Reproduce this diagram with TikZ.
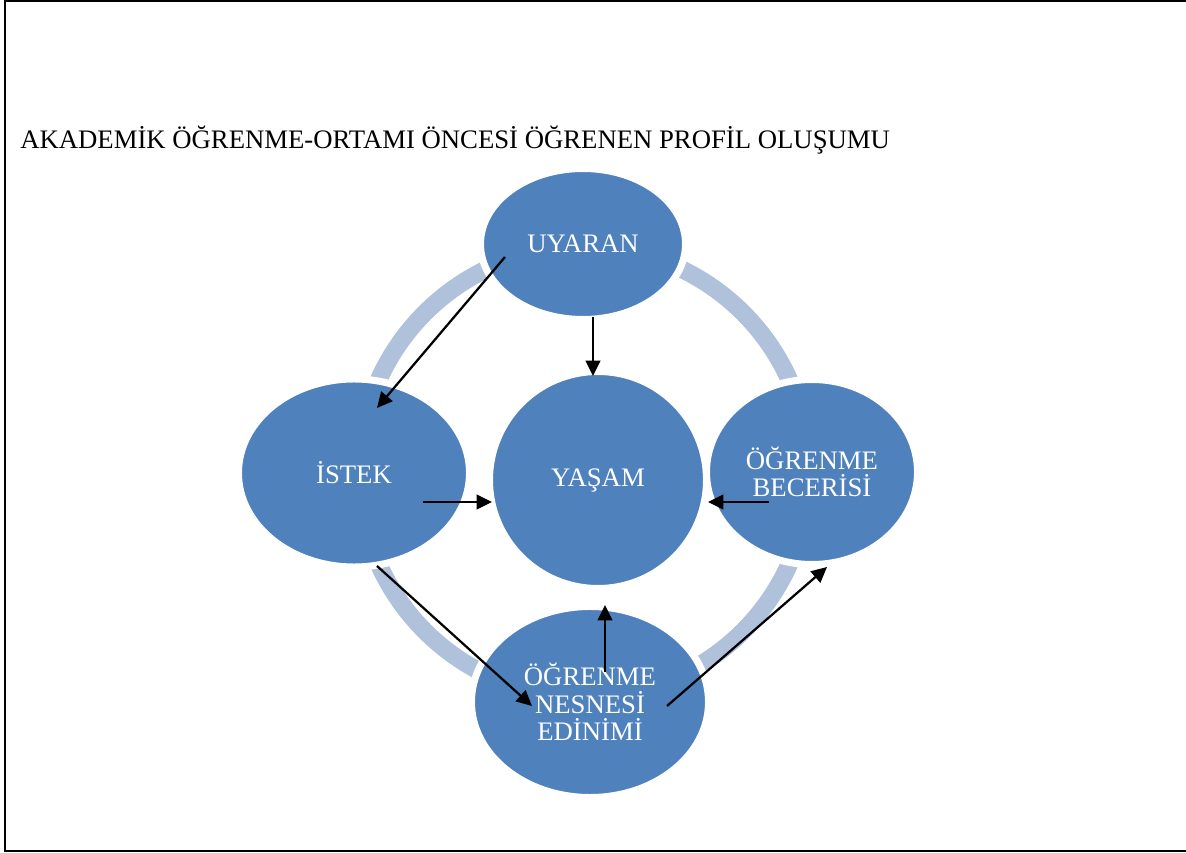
\documentclass[tikz,border=0pt]{standalone}
\usepackage{fontspec}
\setmainfont{Liberation Serif}
\usetikzlibrary{shapes.geometric,arrows.meta}
\definecolor{nodeblue}{RGB}{79,129,189}
\definecolor{ringblue}{RGB}{176,193,220}
\begin{document}
\begin{tikzpicture}[x=0.025cm,y=-0.025cm,
  blob/.style={ellipse,fill=nodeblue,draw=white,line width=5pt,inner sep=0pt,
    text=white,align=center,font=\fontsize{19}{19.5}\selectfont},
  link/.style={line width=1.6pt,-{Triangle[length=11pt,width=10.5pt]}}]
\useasboundingbox (0,0) rectangle (1186,853);
\draw[line width=1.6pt] (1186,1) -- (5,1) -- (5,851) -- (1186,851);
\node[anchor=base west,inner sep=0pt,font=\fontsize{19}{22}\selectfont] (title) at (20,149)
  {AKADEMİK ÖĞRENME-ORTAMI ÖNCESİ ÖĞRENEN PROFİL OLUŞUMU};
% ring behind the circles
\draw[ringblue,line width=12.5pt] (584,472) circle (225);
\node[blob,minimum width=5.125cm,minimum height=3.775cm] (uyaran) at (583,244) {UYARAN};
\node[blob,minimum width=5.425cm,minimum height=5.425cm] (yasam) at (598,480) {YAŞAM};
\node[blob,minimum width=5.775cm,minimum height=4.7cm] (istek) at (354,473) {İSTEK};
\node[blob,minimum width=5.275cm,minimum height=4.625cm] (beceri) at (812,472) {ÖĞRENME\\BECERİSİ};
\node[blob,minimum width=5.925cm,minimum height=4.775cm] (nesne) at (590,702) {ÖĞRENME\\NESNESİ\\EDİNİMİ};
% arrow ends
\coordinate (uyA) at (505,257);
\coordinate (isA) at (377,408);
\coordinate (uyB) at (593,317);
\coordinate (yaTop) at (593,376);
\coordinate (isB) at (423,502);
\coordinate (yaLeft) at (492,502);
\coordinate (beA) at (769,502);
\coordinate (yaRight) at (708,502);
\coordinate (isC) at (377,566);
\coordinate (neA) at (532,706);
\coordinate (neB) at (605,672);
\coordinate (yaBot) at (605,605);
\coordinate (neC) at (667,706);
\coordinate (beB) at (827,567);
\draw[link] (uyA) -- (isA);
\draw[link] (uyB) -- (yaTop);
\draw[link] (isB) -- (yaLeft);
\draw[link] (beA) -- (yaRight);
\draw[link] (isC) -- (neA);
\draw[link] (neB) -- (yaBot);
\draw[link] (neC) -- (beB);
\end{tikzpicture}
\end{document}
